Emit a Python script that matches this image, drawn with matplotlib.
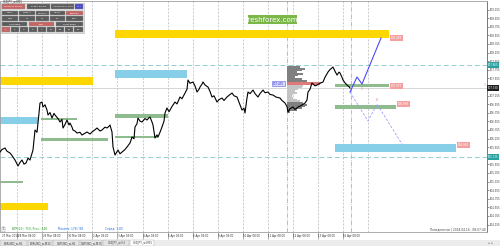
import matplotlib
matplotlib.use("Agg")
import matplotlib.pyplot as plt
from matplotlib.patches import Rectangle

W, H = 500, 246

# USDJPY price path (bar position on chart, close price)
bars = [0, 2, 5, 7, 10, 12, 15, 18, 20, 22, 24, 26, 28, 30, 33, 35, 37, 38, 40, 42,
        43, 45, 47, 48, 50, 52, 54, 55, 58, 60, 62, 63, 65, 67, 69, 70, 72, 73, 75, 77,
        80, 82, 85, 87, 90, 92, 95, 97, 100, 102, 105, 107, 109, 110, 112, 113, 115, 117, 118, 120,
        122, 125, 127, 130, 132, 134, 135, 137, 138, 140, 142, 145, 147, 149, 150, 152, 153, 155, 157, 158,
        160, 162, 164, 165, 167, 169, 170, 172, 175, 177, 180, 182, 185, 187, 188, 190, 193, 195, 197, 199,
        200, 202, 203, 205, 208, 210, 212, 214, 217, 219, 222, 224, 227, 229, 232, 234, 237, 239, 242, 244,
        245, 247, 248, 250, 253, 255, 258, 260, 263, 265, 268, 270, 273, 276, 280, 282, 285, 287, 288, 290,
        293, 295, 298, 301, 305, 307, 308, 310, 312, 315, 317, 320, 323, 325, 328, 330, 333, 335, 337, 339,
        340, 342, 343, 345, 347, 349, 350]
closes = [105.841, 105.900, 105.934, 105.860, 105.818, 105.760, 105.655, 105.516, 105.600, 105.655,
          105.560, 105.586, 105.700, 105.655, 105.888, 106.353, 106.300, 106.516, 106.981, 107.004,
          106.888, 106.940, 106.818, 106.702, 106.760, 106.632, 106.740, 106.702, 106.620, 106.539,
          106.600, 106.400, 106.480, 106.586, 106.470, 106.516, 106.420, 106.353, 106.330, 106.283,
          106.300, 106.237, 106.280, 106.307, 106.260, 106.307, 106.360, 106.400, 106.330, 106.353,
          106.420, 106.400, 106.440, 106.469, 106.307, 105.958, 105.772, 105.850, 105.888, 105.800,
          105.841, 105.900, 105.958, 106.050, 106.190, 106.150, 106.423, 106.500, 106.632, 106.560,
          106.539, 106.620, 106.586, 106.640, 106.655, 106.540, 106.469, 106.167, 106.240, 106.190,
          106.300, 106.423, 106.560, 106.749, 106.865, 106.780, 106.818, 106.900, 107.004, 106.960,
          107.121, 107.080, 107.214, 107.300, 107.516, 107.440, 107.470, 107.380, 107.237, 107.300,
          107.353, 107.420, 107.470, 107.400, 107.353, 107.250, 107.121, 107.150, 107.004, 107.060,
          107.097, 107.040, 107.121, 107.160, 107.214, 107.150, 107.121, 107.000, 106.818, 106.860,
          106.749, 107.100, 107.237, 107.200, 107.283, 107.200, 107.121, 107.200, 107.283, 107.220,
          107.237, 107.180, 107.167, 107.120, 107.097, 107.040, 106.981, 106.900, 106.772, 106.850,
          106.888, 106.830, 106.888, 106.920, 106.981, 107.050, 107.237, 107.300, 107.446, 107.380,
          107.400, 107.440, 107.470, 107.580, 107.702, 107.760, 107.818, 107.720, 107.632, 107.700,
          107.679, 107.580, 107.516, 107.450, 107.400, 107.360, 107.330]
last_price = 107.330

# forecast paths
main_bars = [350, 357, 362, 381]
main_prices = [107.237, 107.586, 107.423, 108.493]
alt_bars = [350, 368, 377, 402]
alt_prices = [107.237, 106.562, 106.958, 106.027]

# zones: (bar from, bar to, upper price, lower price)
yellow_zones = [(115, 389, 108.679, 108.493), (0, 93, 107.586, 107.400), (0, 48, 104.655, 104.492)]
blue_zones = [(115, 187, 107.749, 107.563), (0, 38, 106.655, 106.493), (335, 456, 106.027, 105.841)]
green_zones = [(41, 77, 106.632, 106.586), (41, 108, 106.167, 106.097), (115, 168, 106.725, 106.632),
               (115, 158, 106.214, 106.167), (0, 23, 105.167, 105.120), (335, 389, 107.423, 107.353),
               (335, 396, 106.935, 106.842)]
zone_tags = [(391, 108.493, "108.493"), (391, 107.377, "107.377"),
             (398, 106.958, "106.958"), (458, 106.004, "106.004")]

# volume profile of the last session
vp_start = 287
vp_prices = [107.82, 107.78, 107.74, 107.70, 107.66, 107.62, 107.58, 107.54, 107.50, 107.46,
             107.42, 107.38, 107.34, 107.30, 107.26, 107.22, 107.18, 107.14, 107.10, 107.06,
             107.02, 106.98, 106.94, 106.90, 106.86, 106.82, 106.78]
vp_widths = [13, 18, 15, 10, 16, 11, 8, 15, 20, 35, 33, 16, 15, 11, 8, 10, 6, 5, 6, 10,
             13, 16, 20, 18, 15, 10, 3]
vp_shade = ["d"] * 9 + ["r"] * 2 + ["l"] * 10 + ["d"] * 6
poc_price = 107.435

teal_levels = [107.865, 105.725]
grid_bars = [17, 42, 67, 92, 117, 143, 168, 193, 218, 243, 268, 293, 318, 343, 368]
session_bars = [287, 351]

price_ticks = [109.155, 108.955, 108.755, 108.555, 108.355, 108.155, 107.955, 107.755,
               107.555, 107.355, 107.155, 106.955, 106.755, 106.555, 106.355, 106.155, 105.955,
               105.755, 105.555, 105.355, 105.155, 104.955, 104.755, 104.555, 104.355, 104.155]
# labels hidden under the level markers on the price scale
hidden_ticks = [107.355, 105.755]
time_label_bars = [2, 18, 43, 68, 93, 118, 143, 168, 193, 218, 243, 268, 293, 318, 343]
time_labels = ["27 Mar 2018", "28 Mar 08:00", "29 Mar 08:00", "30 Mar 08:00", "2 Apr 08:00",
               "3 Apr 08:00", "4 Apr 08:00", "5 Apr 08:00", "6 Apr 08:00", "9 Apr 08:00",
               "10 Apr 08:00", "11 Apr 08:00", "12 Apr 08:00", "13 Apr 08:00", "16 Apr 08:00"]
tabs = ["EURUSD_w,H1", "EURUSD_w,M15", "GBPUSD_w,H1", "GBPUSD_w,M15", "USDJPY_w,H1", "USDJPY_w,M15"]
tab_x = [0, 28, 53, 80, 103, 130, 155]

fig = plt.figure(figsize=(W / 100, H / 100), dpi=100)
fig.patch.set_facecolor("white")


def frect(x, y, w, h, **kw):
    fig.add_artist(Rectangle((x / W, 1 - (y + h) / H), w / W, h / H,
                             transform=fig.transFigure, **kw))


def ftext(x, y, s, **kw):
    fig.text(x / W, 1 - y / H, s, **kw)


ax = fig.add_axes([0, 14 / H, 487 / W, 231 / H])
ax.set_xlim(0, 487)
ax.set_ylim(103.981, 109.354)
ax.set_facecolor("white")

for s in ["top", "left", "bottom"]:
    ax.spines[s].set_color("#a0a0a0")
    ax.spines[s].set_linewidth(0.6)
ax.spines["right"].set_color("#606060")
ax.spines["right"].set_linewidth(0.6)

ax.set_xticks([])
ax.yaxis.tick_right()
ax.set_yticks(price_ticks)
ax.set_yticklabels(["" if p in hidden_ticks else f"{p:.3f}" for p in price_ticks])
ax.tick_params(axis="y", labelsize=1.9, length=1.5, width=0.4, pad=0.8,
               colors="#404040")

# grid
ax.vlines(grid_bars, 103.981, 109.377, colors="#b8b8b8", linestyles=(0, (3, 2)), lw=0.5)
ax.vlines(session_bars, 103.981, 109.377, colors="#f08080", linestyles="-.", lw=0.5)
ax.hlines(teal_levels, 0, 487, colors="#8fcfcf", linestyles=(0, (5, 3)), lw=0.7)
ax.axhline(last_price, color="#d0d0d0", lw=0.6)

# zones
for zones, col in [(yellow_zones, "#ffd700"), (blue_zones, "#87cee8"), (green_zones, "#8fbc8f")]:
    for x0, x1, top, bot in zones:
        ax.add_patch(Rectangle((x0, bot), x1 - x0, top - bot, facecolor=col,
                               edgecolor="none", zorder=2))
for x, p, s in zone_tags:
    ax.text(x, p, s, fontsize=2.0, color="white", va="center", ha="left", zorder=6,
            bbox=dict(boxstyle="square,pad=0.25", fc="#f4a0a0", ec="none"))

# volume profile
shade_col = {"d": "#808080", "l": "#c4c4c4", "r": "#e07a7a"}
ax.barh(vp_prices, vp_widths, left=vp_start, height=0.04,
        color=[shade_col[c] for c in vp_shade], edgecolor="none", zorder=3)
ax.text(284, poc_price, f"{poc_price:.3f}", fontsize=2.0, color="#3030c0", ha="right",
        va="center", zorder=6,
        bbox=dict(boxstyle="square,pad=0.2", fc="#d8d8ff", ec="#6060e0", lw=0.4))

# price
ax.plot(bars, closes, color="black", lw=0.8, zorder=4)

# forecast
ax.plot(main_bars, main_prices, color="#4a4aff", lw=0.8, zorder=5)
ax.plot(alt_bars, alt_prices, color="#9a9aff", lw=0.6, ls=(0, (3, 2)), zorder=5)
ax.text(362, 107.30, "5", fontsize=2.3, color="#f08080", ha="center", va="center")
ax.text(377, 107.05, "8", fontsize=2.3, color="#f08080", ha="center", va="center")
ax.text(485, 107.40, "1", fontsize=2.3, color="#f08080", ha="center", va="center")

# axis labels for levels
for p in teal_levels:
    ax.text(1.002, p, f"{p:.3f}", transform=ax.get_yaxis_transform(), fontsize=1.9,
            color="white", va="center", ha="left", zorder=7, clip_on=False,
            bbox=dict(boxstyle="square,pad=0.3", fc="#2aa0a0", ec="none"))
ax.text(1.002, last_price, f"{last_price:.3f}", transform=ax.get_yaxis_transform(),
        fontsize=1.9, color="white", va="center", ha="left", zorder=7, clip_on=False,
        bbox=dict(boxstyle="square,pad=0.3", fc="#202020", ec="none"))

# time axis
xt = ax.get_xaxis_transform()
for x, s in zip(time_label_bars, time_labels):
    ax.text(x, -0.018, s, transform=xt, fontsize=1.9, color="#303030", ha="left",
            va="center", clip_on=False)
ax.vlines(grid_bars[:-1], -0.03, 0, transform=xt, colors="#707070", lw=0.4, clip_on=False)

# status line
ax.text(3, 0.004, "1", transform=xt, fontsize=2.0, color="#303030", va="bottom",
        bbox=dict(boxstyle="square,pad=0.2", fc="white", ec="#808080", lw=0.3))
ax.text(12, 0.004, "ATR(20): 750, Prev.: 448", transform=xt, fontsize=2.1,
        color="#2e9a2e", va="bottom")
ax.text(58, 0.004, "Maxima: 178 / 88", transform=xt, fontsize=2.1, color="#1a6ee0",
        va="bottom")
ax.text(105, 0.004, "Спред: 1,80", transform=xt, fontsize=2.1, color="#1a6ee0",
        va="bottom")
ax.text(486, 0.004, "Понедельник | 2018.04.16 - 08:07:40", transform=xt, fontsize=2.1,
        color="#404040", ha="right", va="bottom")

# header, panel, watermark
ftext(3, 2, "USDJPY_w,M15", fontsize=2.0, color="#303030", va="center")
frect(1, 3, 83, 30, facecolor="#e8e8e8", edgecolor="#b0b0b0", lw=0.4)
panel = [
    (4, [(2, 25, "Previous Profile", "#c86464"), (27, 50, "Entire Profile", "#5c5c5c"),
         (51, 74, "Unlimited Profile", "#5c5c5c"), (75, 83, "1+1", "#4646c8")]),
    (10.5, [(2, 18, "Daily", "#5c5c5c"), (19, 35, "Weekly", "#5c5c5c"),
            (36, 49, "Monthly", "#5c5c5c"), (50, 65, "Hours", "#5c5c5c"),
            (66, 83, "Custom", "#c86464")]),
    (16, [(2, 18, "M30", "#5c5c5c"), (19, 35, "H1", "#5c5c5c"), (36, 49, "H4", "#5c5c5c"),
          (50, 65, "D1", "#5c5c5c"), (66, 83, "SMA", "#5c5c5c")]),
    (21.5, [(2, 27, "Left Edge", "#5c5c5c"), (29, 54, "Shift", "#c86464"),
            (56, 83, "Right Edge", "#5c5c5c")]),
    (27, [(2, 10, "1", "#c86464"), (11, 19, "2", "#5c5c5c"), (20, 28, "3", "#5c5c5c"),
          (29, 37, "5", "#5c5c5c"), (38, 46, "7", "#5c5c5c"), (47, 55, "10", "#5c5c5c"),
          (56, 64, "15", "#5c5c5c"), (65, 73, "20", "#5c5c5c"), (74, 83, "30", "#5c5c5c")]),
]
for y, row in panel:
    for x0, x1, s, c in row:
        frect(x0, y, x1 - x0, 4.6, facecolor=c, edgecolor="#909090", lw=0.3)
        ftext((x0 + x1) / 2, y + 2.4, s, fontsize=1.7, color="white", ha="center",
              va="center")

frect(248, 15, 49, 9, facecolor="#7ab648", edgecolor="none")
ftext(272.5, 19.6, "freshforex.com", fontsize=5, color="white", ha="center", va="center")

# tab bar
frect(0, 240, 500, 6, facecolor="#ececec", edgecolor="none")
for i, s in enumerate(tabs):
    active = i == len(tabs) - 1
    frect(tab_x[i], 240, tab_x[i + 1] - tab_x[i] - 1, 6,
          facecolor="white" if active else "#e4e4e4", edgecolor="#a8a8a8", lw=0.3)
    ftext((tab_x[i] + tab_x[i + 1]) / 2, 243, s, fontsize=2.0, color="#404040",
          ha="center", va="center")
ftext(490, 243, "◂  ▸", fontsize=2.2, color="#606060", ha="center", va="center")

fig.savefig("out.png", dpi=100)
